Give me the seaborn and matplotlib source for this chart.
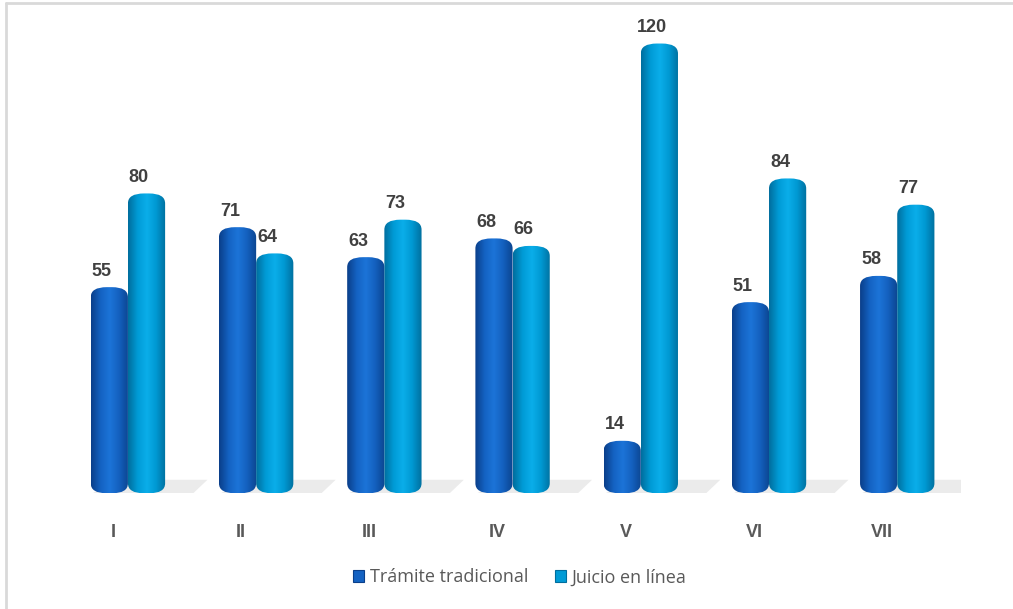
import numpy as np
import pandas as pd
import seaborn as sns
import matplotlib.pyplot as plt
from matplotlib.patches import FancyBboxPatch, Patch, Polygon
from matplotlib.colors import LinearSegmentedColormap
from matplotlib.lines import Line2D
import matplotlib.transforms as mtransforms

sns.set_style("white")
plt.rcParams['font.family'] = ['Liberation Sans', 'DejaVu Sans']

periodos = ["I", "II", "III", "IV", "V", "VI", "VII"]
tradicional = [55, 71, 63, 68, 14, 51, 58]
en_linea = [80, 64, 73, 66, 120, 84, 77]
series = ["Trámite tradicional", "Juicio en línea"]

colores = ["#1467C8", "#00A4E0"]
# edge / mid / highlight tones for the cylinder shading
tonos = {
	"Trámite tradicional": ["#0A3F8A", "#1462C2", "#1C74D8", "#1460BE", "#0B4590"],
	"Juicio en línea": ["#006E9E", "#009BD6", "#0AAEEA", "#0098D2", "#00709F"],
}

df = pd.DataFrame({
	"periodo": periodos * 2,
	"casos": tradicional + en_linea,
	"tipo": [series[0]] * len(periodos) + [series[1]] * len(periodos),
})

fig = plt.figure(figsize=(10.13, 6.09), dpi=100)
ax = fig.add_axes([0.063, 0.19, 0.886, 0.797])

sns.barplot(data=df, x="periodo", y="casos", hue="tipo", palette=colores,
			width=0.58, legend=False, ax=ax)

ax.set_ylim(0, 129.5)
ax.set_xlim(-0.5, len(periodos) - 0.5)

# y units per x unit in pixels, to keep the caps round on screen
px_x = 0.886 * 1013 / len(periodos)
px_y = 0.797 * 609 / 129.5
aspecto = px_x / px_y

# floor shadows behind each pair
for i in range(len(periodos)):
	sombra = Polygon([(i - 0.29, -0.3), (i + 0.5, -0.3), (i + 0.62, 3.6), (i - 0.1, 3.6)],
					 closed=True, facecolor="#EBEBEB", edgecolor="none", zorder=1)
	ax.add_patch(sombra)

for cont, nombre in zip(ax.containers, series):
	cmap = LinearSegmentedColormap.from_list(nombre, tonos[nombre])
	grad = np.linspace(0, 1, 64).reshape(1, -1)
	for bar in cont:
		x, w, h = bar.get_x(), bar.get_width(), bar.get_height()
		bar.set_visible(False)
		forma = FancyBboxPatch((x, 0), w, h,
							   boxstyle="round,pad=0,rounding_size=0.125",
							   mutation_aspect=aspecto * 0.62,
							   facecolor="none", edgecolor="none", zorder=2)
		ax.add_patch(forma)
		img = ax.imshow(grad, cmap=cmap, extent=(x, x + w, 0, h), aspect="auto",
						origin="lower", zorder=2)
		img.set_clip_path(forma)
		ax.text(x + w / 2 - 0.06, h + 2.0, f"{int(h)}", ha="center", va="bottom",
				fontsize=13, fontweight="bold", color="#404040", zorder=4)

ax.set_xlim(-0.5, len(periodos) - 0.5)
ax.set_ylim(0, 129.5)

ax.set_xlabel("")
ax.set_ylabel("")
ax.set_yticks([])
ax.set_xticks(range(len(periodos)))
ax.set_xticklabels(periodos, fontsize=13, fontweight="bold", color="#595959")
ax.tick_params(axis="x", length=0, pad=22)
desplaza = mtransforms.ScaledTranslation(-0.15, 0, fig.dpi_scale_trans)
for lab in ax.get_xticklabels():
	lab.set_transform(lab.get_transform() + desplaza)
sns.despine(ax=ax, left=True, bottom=True)

manejadores = [Patch(facecolor=tonos[s][1], edgecolor=tonos[s][0], linewidth=0.8, label=s)
			   for s in series]
fig.legend(handles=manejadores, loc="center", bbox_to_anchor=(0.513, 0.052), ncol=2,
		   frameon=False, prop={"family": "Open Sans", "size": 13}, labelcolor="#595959",
		   handlelength=0.6, handleheight=0.6, handletextpad=0.3, columnspacing=1.5)

# chart frame (top and left edges visible in the crop)
fig.add_artist(Line2D([0.006, 1.0], [0.995, 0.995], color="#D9D9D9", linewidth=2))
fig.add_artist(Line2D([0.006, 0.006], [0.0, 0.995], color="#D9D9D9", linewidth=2))

fig.savefig("out.png", dpi=100)
